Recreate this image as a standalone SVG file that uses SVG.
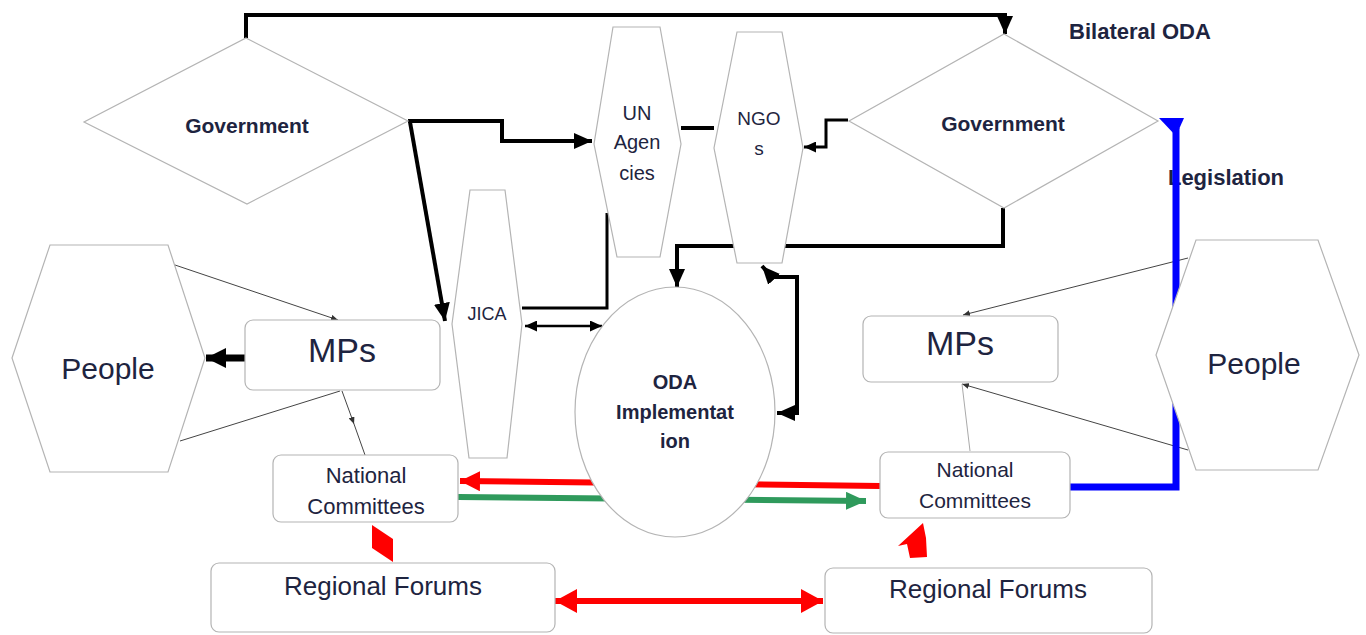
<svg xmlns="http://www.w3.org/2000/svg" width="1366" height="635" viewBox="0 0 1366 635">
<style>
.nd{fill:#fff;stroke:#b4b4b4;stroke-width:1.2}
.t{font-family:"Liberation Sans",Arial,sans-serif;fill:#1e2440;text-anchor:middle}
.b{font-weight:bold}
.k4{fill:none;stroke:#000;stroke-width:4}
.k3{fill:none;stroke:#000;stroke-width:3}
.k2{fill:none;stroke:#000;stroke-width:2.5}
.thin{fill:none;stroke:#444;stroke-width:1}
.light{fill:none;stroke:#aaa;stroke-width:1}
</style>
<defs>
<marker id="mBig" markerUnits="userSpaceOnUse" markerWidth="18" markerHeight="16" refX="18" refY="8" orient="auto-start-reverse"><path d="M0,0 L18,8 L0,16 z" fill="#000"/></marker>
<marker id="mSm" markerUnits="userSpaceOnUse" markerWidth="12" markerHeight="11" refX="12" refY="5.5" orient="auto-start-reverse"><path d="M0,0 L12,5.5 L0,11 z" fill="#000"/></marker>
<marker id="mThin" markerUnits="userSpaceOnUse" markerWidth="7" markerHeight="6" refX="7" refY="3" orient="auto"><path d="M0,0 L7,3 L0,6 z" fill="#333"/></marker>
<marker id="mPeople" markerUnits="userSpaceOnUse" markerWidth="20" markerHeight="20" refX="20" refY="10" orient="auto"><path d="M0,0 L20,10 L0,20 z" fill="#000"/></marker>
<marker id="mRed" markerUnits="userSpaceOnUse" markerWidth="22" markerHeight="24" refX="22" refY="12" orient="auto-start-reverse"><path d="M0,0 L22,12 L0,24 z" fill="#f00"/></marker>
<marker id="mRedNC" markerUnits="userSpaceOnUse" markerWidth="20" markerHeight="20" refX="20" refY="10" orient="auto"><path d="M0,0 L20,10 L0,20 z" fill="#f00"/></marker>
<marker id="mGreen" markerUnits="userSpaceOnUse" markerWidth="20" markerHeight="18" refX="20" refY="9" orient="auto"><path d="M0,0 L20,9 L0,18 z" fill="#2f9a5c"/></marker>
</defs>

<g id="labels">
<text class="t b" x="1140" y="39" font-size="22">Bilateral ODA</text>
<text class="t b" x="1226" y="185" font-size="22">Legislation</text>
</g>

<g id="connectors">
<path class="k4" d="M246,38 V15 H1005 V34" marker-end="url(#mBig)"/>
<path class="k4" d="M408,121 H502 V141 H592" marker-end="url(#mBig)"/>
<path class="k4" d="M410,122 L445,321" marker-end="url(#mBig)"/>
<path class="k4" d="M681,128 H714"/>
<path class="k3" d="M848,120 H826 V147 H804" marker-end="url(#mSm)"/>
<path class="k4" d="M1003,208 V246 H677 V287" marker-end="url(#mBig)"/>
<path class="k4" d="M777,413 H797 V277 H772 L762,266" marker-start="url(#mBig)" marker-end="url(#mBig)"/>
<path class="k3" d="M607,213 V308 H522"/>
<path class="k2" d="M525,326 H602" marker-start="url(#mSm)" marker-end="url(#mSm)"/>
<path fill="none" stroke="#000" stroke-width="7" d="M245,358 H206" marker-end="url(#mPeople)"/>
<path class="thin" d="M175,265 L338,320" marker-end="url(#mThin)"/>
<path class="thin" d="M180,441 L340,391"/>
<path class="thin" d="M342,391 L354,424" marker-end="url(#mThin)"/>
<path class="thin" d="M354,424 L365,455"/>
<path class="thin" d="M1188,258 L963,315" marker-end="url(#mThin)"/>
<path class="thin" d="M1188,450 L962,384" marker-end="url(#mThin)"/>
<path class="light" d="M970,451 L962,384"/>
<path fill="none" stroke="#0000ff" stroke-width="7" d="M1070,487 H1176 V128"/>
<polygon points="1159,118 1184,118 1176,136" fill="#0000ff"/>
<path fill="none" stroke="#f00" stroke-width="6" d="M880,486 L460,481" marker-end="url(#mRedNC)"/>
<path fill="none" stroke="#2f9a5c" stroke-width="6" d="M458,497 L866,501" marker-end="url(#mGreen)"/>
<polygon points="372,525 393,539 393,562 372,548" fill="#f00"/>
<polygon points="923,523 898,546 907,544 910,558 927,557 926,538" fill="#f00"/>
<path fill="none" stroke="#f00" stroke-width="6" d="M555,601 H823" marker-start="url(#mRed)" marker-end="url(#mRed)"/>
</g>

<g id="gov-left">
<polygon class="nd" points="246,38 408,121 247,204 84,122"/>
<text class="t b" x="247" y="133" font-size="21">Government</text>
</g>
<g id="gov-right">
<polygon class="nd" points="1004,34 1158,121 1004,208 849,121"/>
<text class="t b" x="1003" y="131" font-size="21">Government</text>
</g>
<g id="un-agencies">
<polygon class="nd" points="613,27 660,27 681,144 660,257 617,257 594,144"/>
<text class="t" x="637" y="120" font-size="20">UN</text>
<text class="t" x="637" y="149" font-size="20">Agen</text>
<text class="t" x="637" y="180" font-size="20">cies</text>
</g>
<g id="ngos">
<polygon class="nd" points="737,32 782,32 803,148 782,263 737,263 714,148"/>
<text class="t" x="759" y="125" font-size="19">NGO</text>
<text class="t" x="759" y="155" font-size="19">s</text>
</g>
<g id="jica">
<polygon class="nd" points="470,190 505,190 522,324 507,458 469,458 452,324"/>
<text class="t" x="487" y="320" font-size="18">JICA</text>
</g>
<g id="oda">
<ellipse class="nd" cx="675" cy="412" rx="100" ry="125"/>
<text class="t b" x="675" y="389" font-size="20">ODA</text>
<text class="t b" x="675" y="419" font-size="20">Implementat</text>
<text class="t b" x="675" y="448" font-size="20">ion</text>
</g>
<g id="people-left">
<polygon class="nd" points="50,245 168,245 205,358 168,472 50,472 12,358"/>
<text class="t" x="108" y="379" font-size="30">People</text>
</g>
<g id="mps-left">
<rect class="nd" x="245" y="320" width="195" height="70" rx="8"/>
<text class="t" x="342" y="362" font-size="34">MPs</text>
</g>
<g id="nc-left">
<rect class="nd" x="273" y="455" width="185" height="67" rx="8"/>
<text class="t" x="366" y="483" font-size="22">National</text>
<text class="t" x="366" y="514" font-size="22">Committees</text>
</g>
<g id="rf-left">
<rect class="nd" x="211" y="563" width="344" height="69" rx="8"/>
<text class="t" x="383" y="595" font-size="26">Regional Forums</text>
</g>
<g id="people-right">
<polygon class="nd" points="1196,240 1318,240 1359,355 1318,470 1196,470 1156,355"/>
<text class="t" x="1254" y="374" font-size="30">People</text>
</g>
<g id="mps-right">
<rect class="nd" x="863" y="316" width="195" height="66" rx="8"/>
<text class="t" x="960" y="355" font-size="34">MPs</text>
</g>
<g id="nc-right">
<rect class="nd" x="880" y="452" width="190" height="66" rx="8"/>
<text class="t" x="975" y="477" font-size="21">National</text>
<text class="t" x="975" y="508" font-size="21">Committees</text>
</g>
<g id="rf-right">
<rect class="nd" x="825" y="568" width="327" height="65" rx="8"/>
<text class="t" x="988" y="598" font-size="26">Regional Forums</text>
</g>
</svg>
